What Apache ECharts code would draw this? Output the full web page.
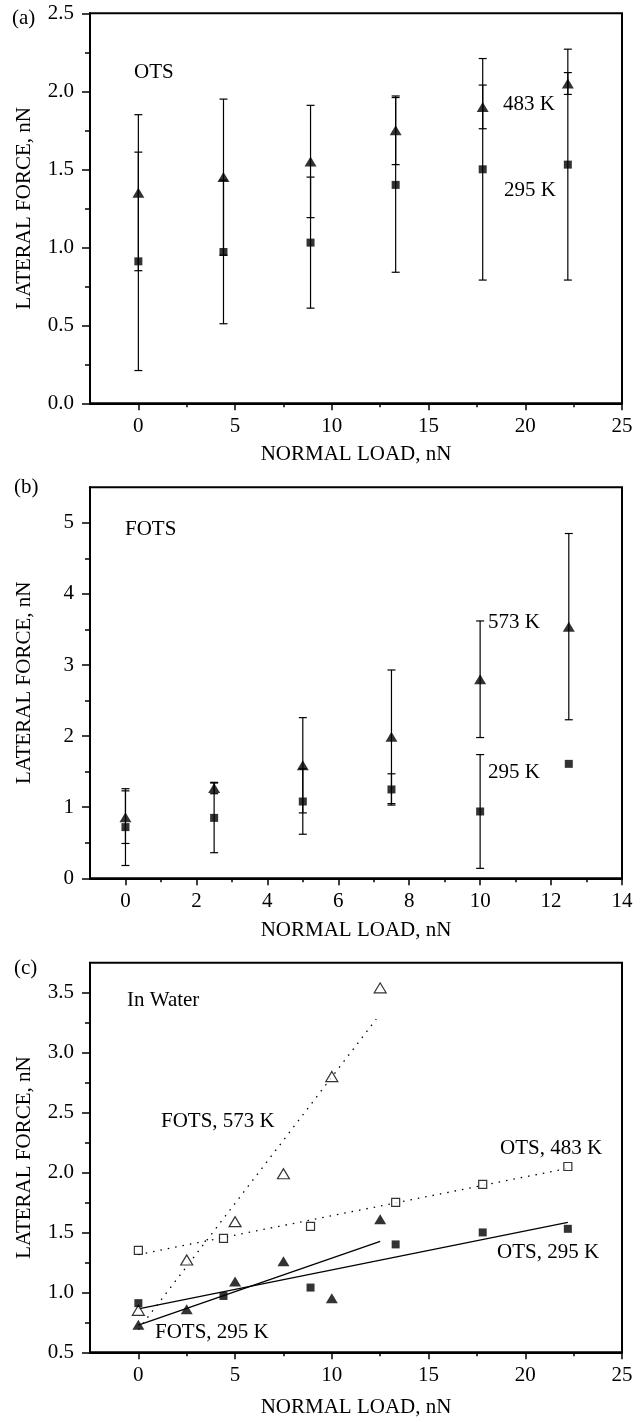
<!DOCTYPE html>
<html><head><meta charset="utf-8">
<script src="https://cdn.jsdelivr.net/npm/echarts@6/dist/echarts.min.js"></script>
<style>html,body{margin:0;padding:0;background:#fff}#c{width:643px;height:1422px}</style>
</head><body><div id="c"></div>
<script>
// ---------- Panel (a): OTS ----------
const loadA = [0, 4.4, 8.9, 13.3, 17.8, 22.2];
const otsHot = [1.35, 1.45, 1.55, 1.75, 1.90, 2.05];        // 483 K
const otsHotErr = [0.50, 0.50, 0.36, 0.22, 0.14, 0.07];
const otsCold = [0.91, 0.97, 1.03, 1.40, 1.50, 1.53];       // 295 K
const otsColdErr = [0.70, 0.46, 0.42, 0.56, 0.71, 0.74];

// ---------- Panel (b): FOTS ----------
const loadB = [0, 2.5, 5, 7.5, 10, 12.5];
const fotsHot = [0.86, 1.27, 1.59, 1.99, 2.80, 3.54];       // 573 K
const fotsHotErr = [0.37, 0.08, 0.67, 0.94, 0.82, 1.31];
const fotsCold = [0.72, 0.85, 1.08, 1.25, 0.94, 1.61];      // 295 K
const fotsColdErr = [0.54, 0.49, 0.46, 0.22, 0.80, null];

// ---------- Panel (c): in water ----------
const waterOtsHot = [1.35, 1.45, 1.55, 1.75, 1.90, 2.05];
const waterOtsCold = [0.91, 0.97, 1.04, 1.40, 1.50, 1.53];
const waterFotsHot = [0.85, 1.27, 1.59, 1.99, 2.80, 3.54];
const waterFotsCold = [0.73, 0.86, 1.09, 1.26, 0.95, 1.61];
// fitted lines, end points
const fitOtsHotX = [0, 22.2],  fitOtsHotY = [1.315, 2.035];
const fitOtsColdX = [0, 22.2], fitOtsColdY = [0.862, 1.584];
const fitFotsHotX = [0, 12.3], fitFotsHotY = [0.69, 3.28];
const fitFotsColdX = [0, 12.5], fitFotsColdY = [0.726, 1.425];

// ---------- tick values ----------
const xTicksA = [0, 5, 10, 15, 20, 25];
const xMinorA = [2.5, 7.5, 12.5, 17.5, 22.5];
const yTicksA = [0, 0.5, 1, 1.5, 2, 2.5];
const yMinorA = [0.25, 0.75, 1.25, 1.75, 2.25];
const xTicksB = [0, 2, 4, 6, 8, 10, 12, 14];
const xMinorB = [1, 3, 5, 7, 9, 11, 13];
const yTicksB = [0, 1, 2, 3, 4, 5];
const yMinorB = [0.5, 1.5, 2.5, 3.5, 4.5];
const xTicksC = [0, 5, 10, 15, 20, 25];
const xMinorC = [2.5, 7.5, 12.5, 17.5, 22.5];
const yTicksC = [0.5, 1, 1.5, 2, 2.5, 3, 3.5];
const yMinorC = [0.75, 1.25, 1.75, 2.25, 2.75, 3.25];

const FONT = 'Liberation Serif';
const txt = {fontFamily: FONT, fontSize: 21, color: '#000'};
const BLACK = '#000';

function xMajor(gi, min, max, ticks, nameGap) {
  return {type: 'value', gridIndex: gi, min, max, position: 'bottom',
    name: 'NORMAL LOAD, nN', nameLocation: 'middle', nameGap,
    nameTextStyle: Object.assign({}, txt),
    axisLine: {show: true, onZero: false, lineStyle: {color: BLACK, width: 2}},
    axisTick: {show: true, customValues: ticks, length: 7, lineStyle: {color: BLACK, width: 1.5}},
    axisLabel: Object.assign({show: true, customValues: ticks, margin: 13, formatter: v => String(v)}, txt),
    splitLine: {show: false}};
}
function xMinor(gi, min, max, ticks) {
  return {type: 'value', gridIndex: gi, min, max, position: 'bottom',
    axisLine: {show: false, onZero: false},
    axisTick: {show: true, customValues: ticks, length: 4, lineStyle: {color: BLACK, width: 1.5}},
    axisLabel: {show: false}, splitLine: {show: false}};
}
function yMajor(gi, min, max, ticks, fmt) {
  return {type: 'value', gridIndex: gi, min, max, position: 'left',
    name: 'LATERAL FORCE, nN', nameLocation: 'middle', nameGap: 55, nameRotate: 90,
    nameTextStyle: Object.assign({}, txt),
    axisLine: {show: true, onZero: false, lineStyle: {color: BLACK, width: 2}},
    axisTick: {show: true, customValues: ticks, length: 8, lineStyle: {color: BLACK, width: 1.5}},
    axisLabel: Object.assign({show: true, customValues: ticks, margin: 16, formatter: fmt}, txt),
    splitLine: {show: false}};
}
function yMinor(gi, min, max, ticks) {
  return {type: 'value', gridIndex: gi, min, max, position: 'left',
    axisLine: {show: false, onZero: false},
    axisTick: {show: true, customValues: ticks, length: 5, lineStyle: {color: BLACK, width: 1.5}},
    axisLabel: {show: false}, splitLine: {show: false}};
}

function errRender(params, api) {
  const x = api.value(0), lo = api.value(1), hi = api.value(2);
  const a = api.coord([x, lo]), b = api.coord([x, hi]);
  const hw = 4, st = {stroke: BLACK, lineWidth: 1.2};
  return {type: 'group', children: [
    {type: 'line', shape: {x1: a[0], y1: a[1], x2: b[0], y2: b[1]}, style: st},
    {type: 'line', shape: {x1: a[0] - hw, y1: a[1], x2: a[0] + hw, y2: a[1]}, style: st},
    {type: 'line', shape: {x1: b[0] - hw, y1: b[1], x2: b[0] + hw, y2: b[1]}, style: st}
  ]};
}
function errSeries(xi, yi, xs, ys, es) {
  const data = [];
  xs.forEach((x, i) => { if (es[i] != null) data.push([x, ys[i] - es[i], ys[i] + es[i]]); });
  return {type: 'custom', xAxisIndex: xi, yAxisIndex: yi, renderItem: errRender,
    data, encode: {x: 0, y: [1, 2]}, z: 1, silent: true};
}
function pts(xs, ys) { return xs.map((x, i) => [x, ys[i]]); }
function marks(xi, yi, xs, ys, shape, open) {
  return {type: 'scatter', xAxisIndex: xi, yAxisIndex: yi, data: pts(xs, ys),
    symbol: shape === 'tri' ? 'triangle' : 'rect',
    symbolSize: shape === 'tri' ? [12, 10] : [8, 8],
    itemStyle: open ? {color: '#fff', borderColor: BLACK, borderWidth: 1.2} : {color: BLACK},
    z: 4, silent: true};
}
function fit(xi, yi, xs, ys, dotted) {
  return {type: 'line', xAxisIndex: xi, yAxisIndex: yi, data: pts(xs, ys), symbol: 'none',
    lineStyle: {color: BLACK, width: 1.3, type: dotted ? [1.5, 6] : 'solid'}, z: 2, silent: true};
}
function label(text, x, y) {
  return {type: 'text', x, y, silent: true,
    style: {text, fill: BLACK, font: '21px "' + FONT + '"', align: 'left', verticalAlign: 'middle'}};
}

const grids = [
  {left: 90, right: 21, top: 13.3, height: 390},
  {left: 90, right: 21, top: 487.3, height: 391},
  {left: 90, right: 21, top: 962.7, height: 389.6}
].map(g => Object.assign(g, {show: true, borderColor: BLACK, borderWidth: 2, backgroundColor: 'transparent'}));

const option = {
  animation: false,
  backgroundColor: '#fff',
  grid: grids,
  xAxis: [
    xMajor(0, -2.5, 25, xTicksA, 41), xMinor(0, -2.5, 25, xMinorA),
    xMajor(1, -1, 14, xTicksB, 42), xMinor(1, -1, 14, xMinorB),
    xMajor(2, -2.5, 25, xTicksC, 45), xMinor(2, -2.5, 25, xMinorC)
  ],
  yAxis: [
    yMajor(0, 0, 2.5, yTicksA, v => v.toFixed(1)), yMinor(0, 0, 2.5, yMinorA),
    yMajor(1, 0, 5.5, yTicksB, v => String(v)), yMinor(1, 0, 5.5, yMinorB),
    yMajor(2, 0.5, 3.75, yTicksC, v => v.toFixed(1)), yMinor(2, 0.5, 3.75, yMinorC)
  ],
  series: [
    errSeries(0, 0, loadA, otsHot, otsHotErr),
    errSeries(0, 0, loadA, otsCold, otsColdErr),
    marks(0, 0, loadA, otsHot, 'tri', false),
    marks(0, 0, loadA, otsCold, 'sq', false),

    errSeries(2, 2, loadB, fotsHot, fotsHotErr),
    errSeries(2, 2, loadB, fotsCold, fotsColdErr),
    marks(2, 2, loadB, fotsHot, 'tri', false),
    marks(2, 2, loadB, fotsCold, 'sq', false),

    fit(4, 4, fitFotsHotX, fitFotsHotY, true),
    fit(4, 4, fitOtsHotX, fitOtsHotY, true),
    fit(4, 4, fitOtsColdX, fitOtsColdY, false),
    fit(4, 4, fitFotsColdX, fitFotsColdY, false),
    marks(4, 4, loadA, waterOtsHot, 'sq', true),
    marks(4, 4, loadB, waterFotsHot, 'tri', true),
    marks(4, 4, loadA, waterOtsCold, 'sq', false),
    marks(4, 4, loadB, waterFotsCold, 'tri', false)
  ],
  graphic: [
    label('(a)', 12, 18), label('OTS', 134, 72), label('483 K', 503, 104), label('295 K', 504, 190),
    label('(b)', 14, 487), label('FOTS', 125, 529), label('573 K', 488, 622), label('295 K', 488, 772),
    label('(c)', 14, 968), label('In Water', 127, 1000), label('FOTS, 573 K', 161, 1121),
    label('OTS, 483 K', 500, 1148), label('OTS, 295 K', 497, 1252), label('FOTS, 295 K', 155, 1332)
  ]
};
const chart = echarts.init(document.getElementById('c'), null, {renderer: 'canvas'});
chart.setOption(option);
</script></body></html>
